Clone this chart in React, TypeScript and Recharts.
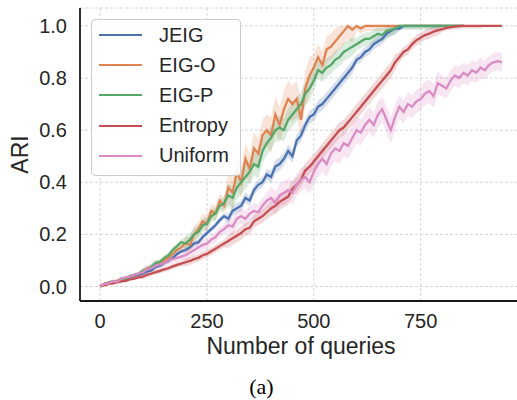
import { ComposedChart, Line, Area, XAxis, YAxis, CartesianGrid, Legend } from 'recharts'

// sampled every 10 queries
const queries = Array.from({ length: 95 }, (_, i) => i * 10)

const jeig = [
  0.0, 0.01, 0.012, 0.018, 0.02, 0.027, 0.03, 0.036, 0.04, 0.045,
  0.05, 0.058, 0.062, 0.075, 0.08, 0.09, 0.098, 0.11, 0.125, 0.135,
  0.14, 0.15, 0.165, 0.17, 0.19, 0.205, 0.22, 0.235, 0.255, 0.27,
  0.26, 0.29, 0.3, 0.31, 0.34, 0.33, 0.37, 0.39, 0.4, 0.43,
  0.42, 0.46, 0.47, 0.49, 0.52, 0.5, 0.56, 0.58, 0.62, 0.65,
  0.66, 0.69, 0.7, 0.72, 0.74, 0.76, 0.78, 0.8, 0.82, 0.84,
  0.87, 0.88, 0.9, 0.91, 0.93, 0.94, 0.95, 0.97, 0.98, 0.99,
  0.99, 1.0, 1.0, 1.0, 1.0, 1.0, 1.0, 1.0, 1.0, 1.0,
  1.0, 1.0, 1.0, 1.0, 1.0, 1.0,
]
const eigO = [
  0.0, 0.01, 0.015, 0.02, 0.022, 0.03, 0.032, 0.04, 0.042, 0.05,
  0.055, 0.07, 0.072, 0.09, 0.088, 0.1, 0.11, 0.125, 0.14, 0.15,
  0.165, 0.16, 0.2, 0.22, 0.25, 0.24, 0.29, 0.28, 0.33, 0.31,
  0.38, 0.36, 0.44, 0.4, 0.49, 0.45, 0.53, 0.51, 0.58, 0.6,
  0.58, 0.66, 0.62, 0.68, 0.72, 0.7, 0.72, 0.64, 0.76, 0.81,
  0.84, 0.88, 0.85, 0.91, 0.92, 0.94, 0.96, 0.98, 1.0, 0.985,
  1.0, 0.99, 1.0, 1.0, 1.0, 1.0, 1.0, 1.0, 1.0, 1.0,
  1.0, 1.0, 1.0, 1.0, 1.0, 1.0, 1.0, 1.0, 1.0, 1.0,
  1.0, 1.0, 1.0, 1.0, 1.0, 1.0,
]
const eigP = [
  0.0, 0.008, 0.015, 0.02, 0.018, 0.03, 0.028, 0.04, 0.045, 0.05,
  0.06, 0.065, 0.075, 0.09, 0.095, 0.11, 0.12, 0.14, 0.155, 0.17,
  0.165, 0.18, 0.2, 0.21, 0.235, 0.24, 0.27, 0.28, 0.31, 0.32,
  0.35, 0.34, 0.38, 0.4, 0.42, 0.44, 0.47, 0.46, 0.52, 0.55,
  0.57, 0.6, 0.61, 0.6, 0.64, 0.66, 0.68, 0.7, 0.74, 0.76,
  0.79, 0.83, 0.82, 0.84, 0.85, 0.87, 0.88, 0.9, 0.91, 0.92,
  0.93, 0.94, 0.95, 0.95, 0.96, 0.97, 0.965, 0.98, 0.985, 0.99,
  1.0, 1.0, 1.0, 1.0, 1.0, 1.0, 1.0, 1.0, 1.0, 1.0,
  1.0, 1.0, 1.0, 1.0, 1.0, 1.0,
]
const entropy = [
  0.0, 0.005, 0.01, 0.012, 0.016, 0.02, 0.022, 0.027, 0.03, 0.035,
  0.038, 0.045, 0.05, 0.055, 0.06, 0.066, 0.07, 0.077, 0.083, 0.088,
  0.093, 0.098, 0.105, 0.11, 0.12, 0.125, 0.135, 0.145, 0.155, 0.165,
  0.175, 0.185, 0.195, 0.205, 0.22, 0.225, 0.25, 0.26, 0.27, 0.285,
  0.3, 0.31, 0.325, 0.335, 0.345, 0.375, 0.39, 0.41, 0.445, 0.46,
  0.48, 0.5, 0.52, 0.54, 0.56, 0.58, 0.6, 0.61, 0.63, 0.65,
  0.67, 0.69, 0.71, 0.73, 0.75, 0.77, 0.79, 0.81, 0.83, 0.86,
  0.88, 0.9, 0.91, 0.93, 0.945, 0.955, 0.965, 0.97, 0.978, 0.983,
  0.988, 0.992, 0.995, 0.997, 0.999, 1.0, 1.0, 1.0, 1.0, 1.0,
  1.0, 1.0, 1.0, 1.0, 1.0,
]
const uniform = [
  0.0, 0.01, 0.012, 0.02, 0.018, 0.03, 0.035, 0.038, 0.045, 0.05,
  0.055, 0.065, 0.07, 0.08, 0.085, 0.09, 0.1, 0.105, 0.11, 0.115,
  0.12, 0.13, 0.14, 0.15, 0.16, 0.165, 0.18, 0.19, 0.21, 0.22,
  0.235, 0.23, 0.26, 0.27, 0.26, 0.28, 0.29, 0.285, 0.31, 0.33,
  0.34, 0.32, 0.35, 0.36, 0.37, 0.36, 0.39, 0.41, 0.42, 0.4,
  0.44, 0.47, 0.49, 0.47, 0.51, 0.53, 0.52, 0.55, 0.54, 0.57,
  0.6, 0.59, 0.62, 0.64, 0.62, 0.66, 0.68, 0.64, 0.6, 0.65,
  0.69, 0.67, 0.7, 0.69, 0.71, 0.72, 0.74, 0.75, 0.73, 0.78,
  0.77, 0.76, 0.79, 0.81, 0.8, 0.82, 0.81, 0.83, 0.82, 0.84,
  0.83, 0.85, 0.86, 0.865, 0.86,
]

// half-width of the shaded band, one value per 100 queries
const jeigSpread = [0.005, 0.008, 0.012, 0.02, 0.025, 0.025, 0.02, 0.01, 0.003, 0.002]
const eigOSpread = [0.006, 0.012, 0.03, 0.06, 0.07, 0.05, 0.02, 0.005, 0.002, 0.002]
const eigPSpread = [0.006, 0.012, 0.025, 0.045, 0.045, 0.035, 0.025, 0.015, 0.005, 0.002]
const entropySpread = [0.005, 0.01, 0.015, 0.025, 0.03, 0.03, 0.03, 0.02, 0.01, 0.003]
const uniformSpread = [0.008, 0.015, 0.02, 0.03, 0.045, 0.05, 0.05, 0.045, 0.04, 0.035]

const xTicks = [0, 250, 500, 750]
const yTicks = [0, 0.2, 0.4, 0.6, 0.8, 1.0]

const series = [
  { key: 'jeig', name: 'JEIG', color: '#4C72B0', values: jeig, spread: jeigSpread },
  { key: 'eigO', name: 'EIG-O', color: '#DD8452', values: eigO, spread: eigOSpread },
  { key: 'eigP', name: 'EIG-P', color: '#55A868', values: eigP, spread: eigPSpread },
  { key: 'entropy', name: 'Entropy', color: '#C44E52', values: entropy, spread: entropySpread },
  { key: 'uniform', name: 'Uniform', color: '#DA8BC3', values: uniform, spread: uniformSpread },
]

const rows = queries.map((q, i) => {
  const row: Record<string, any> = { q }
  for (const s of series) {
    const v = s.values[i]
    if (v === undefined) continue
    const w = s.spread[Math.min(9, Math.floor(q / 100))]
    row[s.key] = v
    row[s.key + 'Band'] = [Math.max(0, v - w), Math.min(1, v + w)]
  }
  return row
})

const font = '"Liberation Sans", Arial, sans-serif'
const ink = '#262626'
const spine = '#1a1a1a'

function LegendBox() {
  return (
    <div style={{ width: 150, height: 157, boxSizing: 'border-box', border: '1px solid #cccccc', borderRadius: 4, background: 'rgba(255,255,255,0.85)', fontFamily: font, fontSize: 20, color: ink }}>
      {series.map((s) => (
        <div key={s.key} style={{ height: 30.2, display: 'flex', alignItems: 'center' }}>
          <span style={{ display: 'inline-block', width: 43, height: 2, background: s.color, marginLeft: 7, marginRight: 17 }} />
          <span>{s.name}</span>
        </div>
      ))}
    </div>
  )
}

function YLabel(props: any) {
  const vb = props.viewBox || { x: 0, y: 8, width: 80, height: 293 }
  const cy = vb.y + vb.height / 2
  return (
    <text x={20} y={cy} transform={`rotate(-90 20 ${cy})`} textAnchor="middle" dominantBaseline="central" fontSize={23} fill={ink} fontFamily={font}>
      ARI
    </text>
  )
}

export default function App() {
  return (
    <div style={{ position: 'fixed', left: 0, top: 0, width: 517, height: 400, overflow: 'hidden', background: '#fff' }}>
      <ComposedChart width={540} height={400} data={rows} margin={{ top: 8, right: 18, left: 0, bottom: 0 }}>
        <CartesianGrid stroke="#d4d4d4" strokeDasharray="3 2" />
        <XAxis
          dataKey="q" type="number" domain={[-47, 987]} ticks={xTicks} allowDataOverflow
          tickLine={false} tickSize={11} tickMargin={2}
          axisLine={{ stroke: spine, strokeWidth: 1.8 }}
          tick={{ fontSize: 20, fill: ink, fontFamily: font }}
          label={{ value: 'Number of queries', position: 'insideBottom', offset: 46, fontSize: 23, fill: ink, fontFamily: font }}
          height={99}
        />
        <XAxis xAxisId="top" orientation="top" dataKey="q" type="number" domain={[-47, 987]} tick={false} tickLine={false} height={0} axisLine={{ stroke: spine, strokeWidth: 1.8 }} />
        <YAxis
          type="number" domain={[-0.0556, 1.0687]} ticks={yTicks} allowDataOverflow width={80}
          tickLine={false} tickSize={11} tickMargin={2}
          tickFormatter={(v: number) => v.toFixed(1)}
          axisLine={{ stroke: spine, strokeWidth: 1.8 }}
          tick={{ fontSize: 20, fill: ink, fontFamily: font }}
          label={(p: any) => <YLabel {...p} />}
        />
        {series.flatMap((s) => [
          <Area key={s.key + 'Band'} dataKey={s.key + 'Band'} stroke="none" fill={s.color} fillOpacity={0.22} isAnimationActive={false} legendType="none" dot={false} activeDot={false} />,
          <Line key={s.key} dataKey={s.key} name={s.name} stroke={s.color} strokeWidth={2.3} dot={false} activeDot={false} isAnimationActive={false} />,
        ])}
        <Legend layout="vertical" align="center" verticalAlign="middle" wrapperStyle={{ left: 91, top: 19, width: 150, height: 157 }} content={() => <LegendBox />} />
      </ComposedChart>
      <div style={{ position: 'absolute', left: 0, width: 523, top: 374, textAlign: 'center', fontFamily: '"Liberation Serif", "Times New Roman", serif', fontSize: 22, color: '#000' }}>(a)</div>
    </div>
  )
}
